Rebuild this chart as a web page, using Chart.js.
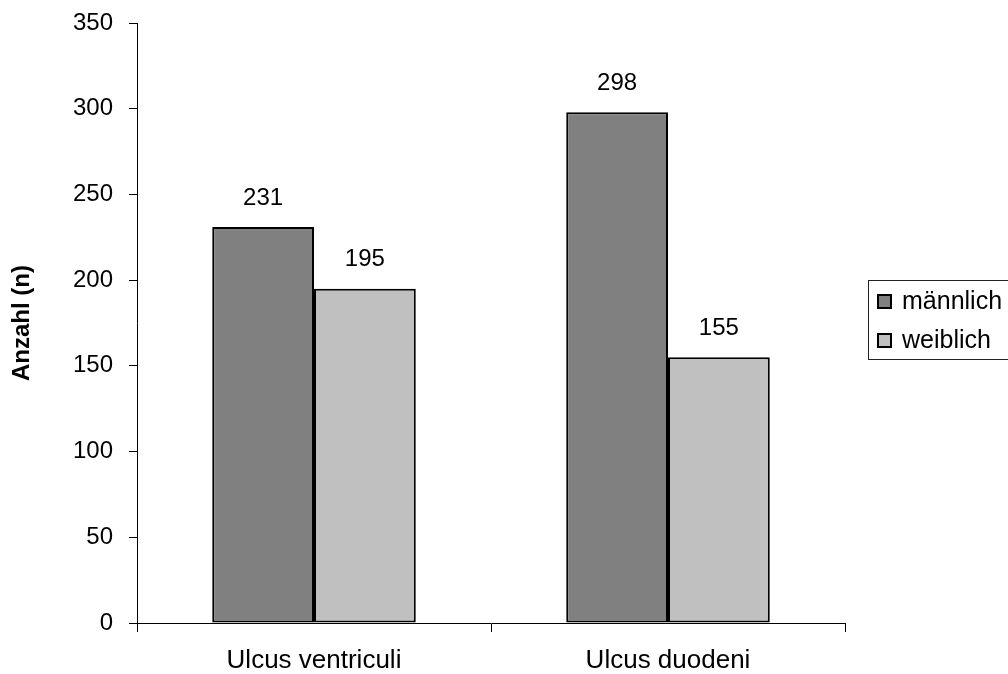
<!DOCTYPE html>
<html>
<head>
<meta charset="utf-8">
<script src="https://cdn.jsdelivr.net/npm/chart.js@4/dist/chart.umd.min.js"></script>
<style>
  html, body { margin: 0; padding: 0; background: #fff; }
  #wrap { width: 1008px; height: 674px; position: relative; }
</style>
</head>
<body>
<div id="wrap"><canvas id="c" width="1008" height="674"></canvas></div>
<script>
const categories = ['Ulcus ventriculi', 'Ulcus duodeni'];
const seriesNames = ['männlich', 'weiblich'];
const maleValues = [231, 298];
const femaleValues = [195, 155];
const seriesColors = ['#808080', '#c0c0c0'];
const yTicks = [0, 50, 100, 150, 200, 250, 300, 350];

const FONT = "'Liberation Sans', Arial, sans-serif";

// Value labels above each bar
const valueLabels = {
  id: 'valueLabels',
  afterDatasetsDraw(chart) {
    const ctx = chart.ctx;
    ctx.save();
    ctx.font = '24px ' + FONT;
    ctx.fillStyle = '#000';
    ctx.textAlign = 'center';
    ctx.textBaseline = 'middle';
    chart.data.datasets.forEach((ds, i) => {
      chart.getDatasetMeta(i).data.forEach((bar, j) => {
        ctx.fillText(String(ds.data[j]), bar.x, bar.y - 29);
      });
    });
    ctx.restore();
  }
};

// Framed legend on the right
const framedLegend = {
  id: 'framedLegend',
  afterDraw(chart) {
    const ctx = chart.ctx;
    ctx.save();
    ctx.strokeStyle = '#222';
    ctx.lineWidth = 1;
    ctx.strokeRect(868.5, 280.5, 160, 79);
    ctx.font = '25px ' + FONT;
    ctx.textAlign = 'left';
    ctx.textBaseline = 'middle';
    const rows = [301, 340];
    chart.data.datasets.forEach((ds, i) => {
      const cy = rows[i];
      ctx.fillStyle = ds.backgroundColor;
      ctx.fillRect(877, cy - 7, 15, 15);
      ctx.lineWidth = 2;
      ctx.strokeStyle = '#000';
      ctx.strokeRect(878, cy - 6, 13, 13);
      ctx.fillStyle = '#000';
      ctx.fillText(ds.label, 902, cy + 1);
    });
    ctx.restore();
  }
};

new Chart(document.getElementById('c'), {
  type: 'bar',
  data: {
    labels: categories,
    datasets: [
      { label: seriesNames[0], data: maleValues, backgroundColor: seriesColors[0], borderColor: '#000', borderWidth: 2, borderSkipped: false },
      { label: seriesNames[1], data: femaleValues, backgroundColor: seriesColors[1], borderColor: '#000', borderWidth: 2, borderSkipped: false }
    ]
  },
  options: {
    responsive: false,
    animation: false,
    devicePixelRatio: 1,
    layout: { padding: { top: 23, right: 163, left: 0, bottom: 0 } },
    datasets: { bar: { categoryPercentage: 0.575, barPercentage: 1 } },
    plugins: { legend: { display: false }, tooltip: { enabled: false } },
    scales: {
      x: {
        afterFit(s) { s.height = 51; s.paddingLeft = 0; s.paddingRight = 0; },
        grid: { drawOnChartArea: false, drawTicks: true, tickLength: 9, color: '#000', offset: true },
        border: { color: '#000', width: 1 },
        ticks: { color: '#000', font: { family: FONT, size: 26 }, padding: 13 }
      },
      y: {
        min: 0, max: 350,
        afterFit(s) { s.width = 137; s.paddingTop = 0; s.paddingBottom = 0; },
        afterBuildTicks(s) { s.ticks = yTicks.map(v => ({ value: v })); },
        grid: { drawOnChartArea: false, drawTicks: true, tickLength: 8, color: '#000' },
        border: { color: '#000', width: 1 },
        ticks: { color: '#000', font: { family: FONT, size: 24 }, padding: 16 },
        title: { display: true, text: 'Anzahl (n)', color: '#000', font: { family: FONT, size: 24, weight: 'bold' }, padding: { top: 8, bottom: 0 } }
      }
    }
  },
  plugins: [valueLabels, framedLegend]
});
</script>
</body>
</html>
